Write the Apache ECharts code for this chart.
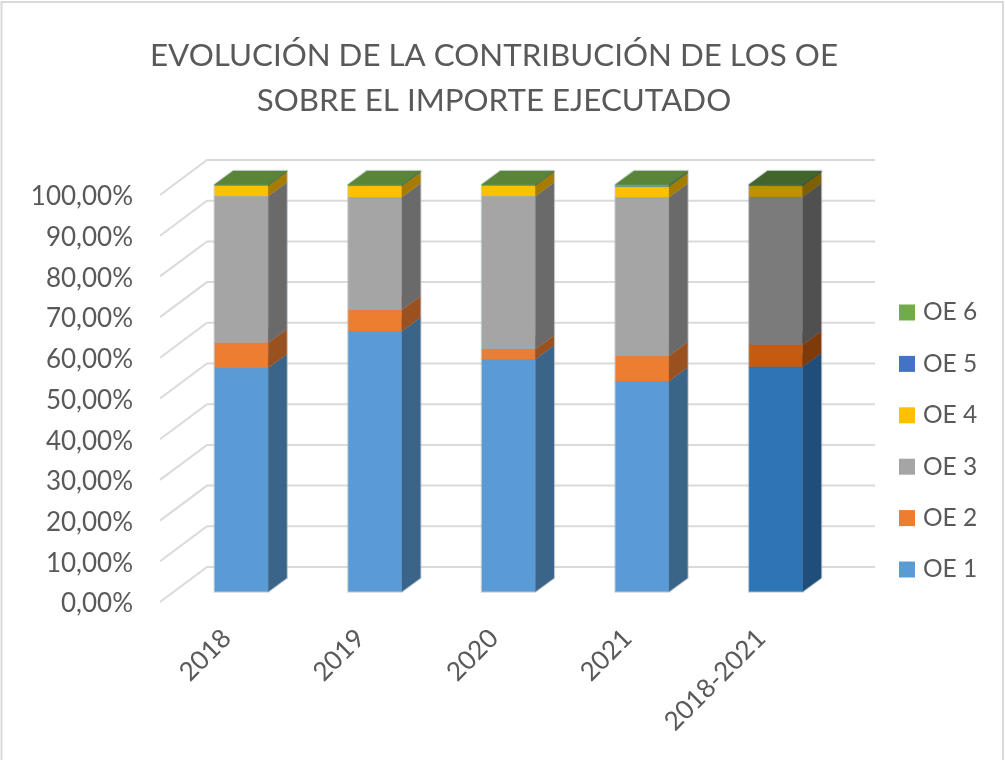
<!DOCTYPE html>
<html><head><meta charset="utf-8">
<style>html,body{margin:0;padding:0;background:#fff}#c{width:1005px;height:760px}</style>
<script src="https://cdn.jsdelivr.net/npm/echarts@6/dist/echarts.min.js"></script>
</head><body><div id="c"></div>
<script>
const categories = ['2018','2019','2020','2021','2018-2021'];
const seriesNames = ['OE 1','OE 2','OE 3','OE 4','OE 5','OE 6'];
const oe1 = [55.0,64.0,57.1,51.7,55.2];
const oe2 = [6.1,5.2,2.5,6.2,5.4];
const oe3 = [36.1,27.7,37.6,39.0,36.4];
const oe4 = [2.6,2.8,2.6,2.6,2.7];
const oe5 = [0.05,0.1,0.05,0.1,0.1];
const oe6 = [0.15,0.2,0.15,0.4,0.2];
const values = [oe1,oe2,oe3,oe4,oe5,oe6];
const yTicks = [0,10,20,30,40,50,60,70,80,90,100];
// colours: front / side / top, normal and for the highlighted last column
const front = ['#5B9BD5','#ED7D31','#A5A5A5','#FFC000','#4472C4','#70AD47'];
const side  = ['#3A6488','#9A5120','#6A6A6A','#A67C00','#2C4A80','#49702E'];
const top_  = ['#5B9BD5','#ED7D31','#A5A5A5','#FFC000','#4472C4','#5A8538'];
const frontD = ['#2E75B6','#C55A11','#7B7B7B','#BF9000','#2F5597','#548235'];
const sideD  = ['#1E4E79','#7F3A0C','#505050','#7F6000','#203864','#385723'];
const topD   = ['#2E75B6','#C55A11','#7B7B7B','#BF9000','#2F5597','#41652B'];
const FLOOR_DX = 47, FLOOR_DY = -35, BAR_OFF_DX = 14.7, BAR_OFF_DY = -10.5, BAR_W = 53.5, BAR_DX = 18.5, BAR_DY = -13.5;
const BACK_W = 668;

const chart = echarts.init(document.getElementById('c'), null, {renderer:'canvas'});

const gridSeries = {
  type:'custom', silent:true, z:1,
  data: yTicks.map(t=>[0,t]),
  encode:{y:1},
  renderItem(params, api){
    const p = api.coord([0, api.value(1)]);
    const size = api.size([1,0]);
    const x0 = p[0]-size[0]/2;
    return {type:'polyline', shape:{points:[[x0,p[1]],[x0+FLOOR_DX,p[1]+FLOOR_DY],[x0+FLOOR_DX+BACK_W,p[1]+FLOOR_DY]]},
      style:{stroke:'#DADADA',lineWidth:2,fill:null}};
  }
};

// faint halo around each whole column
const haloSeries = {
  type:'custom', silent:true, z:2,
  data: categories.map((c,i)=>[i,0,values.reduce((s,v)=>s+v[i],0)]),
  encode:{x:0,y:[1,2]},
  renderItem(params, api){
    const i=api.value(0);
    const a=api.coord([i,api.value(1)]), b=api.coord([i,api.value(2)]);
    const x=a[0]+BAR_OFF_DX-BAR_W/2, y0=a[1]+BAR_OFF_DY, y1=b[1]+BAR_OFF_DY;
    return {type:'polygon',shape:{points:[[x,y0],[x+BAR_W,y0],[x+BAR_W+BAR_DX,y0+BAR_DY],[x+BAR_W+BAR_DX,y1+BAR_DY],[x+BAR_DX,y1+BAR_DY],[x,y1]]},
      style:{fill:'#fff',stroke:'rgba(170,180,190,0.55)',lineWidth:2.4}};
  }
};

function barSeries(idx){
  const data = categories.map((c,i)=>{
    let base=0; for(let k=0;k<idx;k++) base+=values[k][i];
    return [i, base, base+values[idx][i]];
  });
  return {
    type:'custom', name:seriesNames[idx], z:3,
    itemStyle:{color:front[idx]},
    encode:{x:0,y:[1,2]},
    data,
    renderItem(params, api){
      const i=api.value(0);
      const a=api.coord([i,api.value(1)]), b=api.coord([i,api.value(2)]);
      const last = i===categories.length-1;
      const x=a[0]+BAR_OFF_DX-BAR_W/2, y0=a[1]+BAR_OFF_DY, y1=b[1]+BAR_OFF_DY;
      const poly=(pts,c)=>({type:'polygon',shape:{points:pts},style:{fill:c,stroke:c,lineWidth:0.3}});
      return {type:'group',children:[
        poly([[x,y0],[x+BAR_W,y0],[x+BAR_W,y1],[x,y1]], (last?frontD:front)[idx]),
        poly([[x+BAR_W,y0],[x+BAR_W+BAR_DX,y0+BAR_DY],[x+BAR_W+BAR_DX,y1+BAR_DY],[x+BAR_W,y1]], (last?sideD:side)[idx]),
        poly([[x,y1],[x+BAR_W,y1],[x+BAR_W+BAR_DX,y1+BAR_DY],[x+BAR_DX,y1+BAR_DY]], (last?topD:top_)[idx])
      ]};
    }
  };
}

chart.setOption({
  animation:false,
  backgroundColor:'#fff',
  textStyle:{fontFamily:'Lato'},
  title:{text:'EVOLUCIÓN DE LA CONTRIBUCIÓN DE LOS OE\nSOBRE EL IMPORTE EJECUTADO',left:489,top:28,textAlign:'center',
    textStyle:{fontFamily:'Lato',fontSize:31.3,fontWeight:'normal',color:'#595959',lineHeight:45}},
  grid:{left:160,top:195,width:668,height:407},
  xAxis:{type:'category',data:categories,axisLine:{show:false},axisTick:{show:false},splitLine:{show:false},
    axisLabel:{rotate:45,margin:32,fontSize:26,color:'#595959',fontFamily:'Lato',interval:0}},
  yAxis:{type:'value',min:0,max:100,interval:10,axisLine:{show:false},axisTick:{show:false},splitLine:{show:false},
    axisLabel:{margin:27,fontSize:26,color:'#595959',fontFamily:'Lato',verticalAlign:'top',lineHeight:4,formatter:v=>v.toFixed(2).replace('.',',')+'%'}},
  legend:{orient:'vertical',left:894,top:295,itemWidth:16,itemHeight:16,itemGap:26.4,icon:'rect',selectedMode:false,
    data:seriesNames.slice().reverse(),
    textStyle:{fontFamily:'Lato',fontSize:24.5,color:'#595959',padding:[0,0,0,3],lineHeight:18}},
  graphic:[{type:'rect',silent:true,z:-1,shape:{x:1.5,y:2,width:1001.5,height:760},style:{fill:null,stroke:'#D9D9D9',lineWidth:2}}],
  series:[gridSeries,haloSeries].concat(seriesNames.map((n,i)=>barSeries(i)))
});
</script></body></html>
